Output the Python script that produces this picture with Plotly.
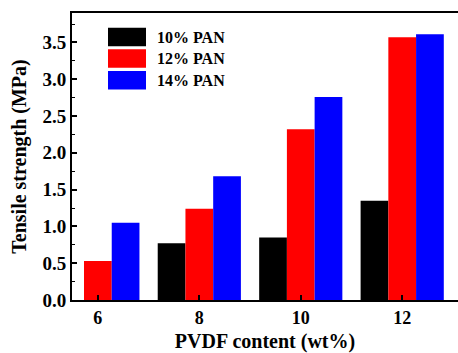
import plotly.graph_objects as go

pvdf = [6, 8, 10, 12]
series_names = ["10% PAN", "12% PAN", "14% PAN"]
pan10 = [0.0, 0.77, 0.85, 1.35]
pan12 = [0.53, 1.24, 2.32, 3.57]
pan14 = [1.05, 1.68, 2.76, 3.61]
colors = ["#000000", "#ff0000", "#0000ff"]
y_ticks = [0.0, 0.5, 1.0, 1.5, 2.0, 2.5, 3.0, 3.5]

W, H = 458, 353
ml, mr, mt, mb = 72, 0, 13, 53
font = "Liberation Serif"

fig = go.Figure()
for name, vals, c in zip(series_names, [pan10, pan12, pan14], colors):
    fig.add_trace(go.Bar(x=pvdf, y=vals, name=name, marker=dict(color=c, line=dict(width=0)),
                         showlegend=False))

# custom legend (swatches + text)
pw, ph = W - ml - mr, H - mt - mb
def px2x(p):
    return (p - ml) / pw
def py2y(p):
    return (H - mb - p) / ph
sw_top = [27.7, 49.3, 71.0]
for name, c, t in zip(series_names, colors, sw_top):
    fig.add_shape(type="rect", xref="paper", yref="paper",
                  x0=px2x(108), x1=px2x(146), y0=py2y(t + 18.5), y1=py2y(t),
                  fillcolor=c, line=dict(width=0))
    fig.add_annotation(xref="paper", yref="paper", x=px2x(155), y=py2y(t + 9.5),
                       text=f"<b>{name}</b>", showarrow=False, xanchor="left", yanchor="middle",
                       font=dict(family=font, size=16, color="black"))

fig.update_layout(
    width=W, height=H,
    margin=dict(l=ml, r=mr, t=mt, b=mb),
    paper_bgcolor="white", plot_bgcolor="white",
    barmode="group", bargap=0.18, bargroupgap=0,
    font=dict(family=font, color="black"),
)
fig.update_xaxes(
    range=[5.49, 13.1], tickvals=pvdf, ticktext=[f"<b>{v}</b>" for v in pvdf],
    ticks="inside", ticklen=5, tickwidth=1.5, tickcolor="black",
    showline=True, linewidth=2, linecolor="black", mirror=True,
    showgrid=False, zeroline=False,
    tickfont=dict(family=font, size=18, color="black"),
    title=dict(text="<b>PVDF content (wt%)</b>", font=dict(family=font, size=20, color="black"), standoff=9),
)
fig.update_yaxes(
    range=[0, 3.9], tickvals=y_ticks, ticktext=[f"<b>{v:.1f}</b>" for v in y_ticks],
    ticks="inside", ticklen=5, tickwidth=1.5, tickcolor="black",
    minor=dict(dtick=0.25, ticks="inside", ticklen=3, tickcolor="black", tickwidth=1),
    showline=True, linewidth=2, linecolor="black", mirror=False,
    showgrid=False, zeroline=False,
    tickfont=dict(family=font, size=19, color="black"),
    title=dict(text="<b>Tensile strength (MPa)</b>", font=dict(family=font, size=20, color="black"), standoff=10),
)

fig.write_html("out.html")
